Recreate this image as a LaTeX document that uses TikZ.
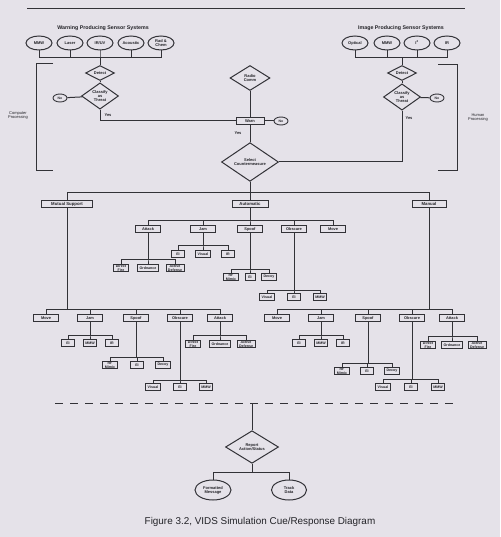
\documentclass[tikz,border=0pt]{standalone}
\usepackage{fontspec}
\setmainfont{Liberation Sans}
\usetikzlibrary{shapes.geometric}
\definecolor{bg}{RGB}{229,226,233}
\definecolor{lc}{RGB}{50,50,55}
\definecolor{tc}{RGB}{35,35,40}
\newcommand\fsz[1]{\fontsize{#1}{#1}\selectfont}
\newcommand\mybranch[3]{\draw[ln] (#1) -- (#1 |- 0,#2) -| (#3);}
\begin{document}
\begin{tikzpicture}[x=1pt,y=-1pt,
  ln/.style={draw=lc, line width=1pt},
  sens/.style={ellipse, draw=lc, line width=1pt, fill=bg, minimum width=26pt, minimum height=14pt, inner sep=0pt, font=\fsz{4}\bfseries, align=center, text=tc},
  sml/.style={ellipse, draw=lc, line width=0.9pt, fill=bg, minimum width=14pt, minimum height=8pt, inner sep=0pt, font=\fsz{3.4}\bfseries, text=tc},
  dia/.style={diamond, draw=lc, line width=1pt, fill=bg, inner sep=0pt, font=\fsz{4}\bfseries, align=center, text=tc},
  bx/.style={rectangle, draw=lc, line width=1pt, fill=bg, inner xsep=2pt, inner ysep=0.8pt, minimum height=6.5pt, font=\fsz{3.9}\bfseries, align=center, text=tc},
  lone/.style={bx, minimum height=7pt, font=\fsz{4.3}\bfseries},
  ltwo/.style={bx, minimum width=25pt},
  lthr/.style={bx, minimum width=13pt, font=\fsz{3.6}\bfseries},
  lab/.style={font=\fsz{4}\bfseries, text=tc, inner sep=0pt},
  side/.style={font=\fsz{4}, text=tc, align=center, inner sep=0pt},
  ttl/.style={font=\fsz{5.3}\bfseries, text=tc, inner sep=0pt}]
\useasboundingbox (0,0) rectangle (500,537);
\fill[bg] (0,0) rectangle (500,537);

% top rule
\coordinate (r1) at (27,9); \coordinate (r2) at (465,9);
\draw[ln] (r1) -- (r2);

% titles
\node[ttl] (wt) at (103,28) {Warning Producing Sensor Systems};
\node[ttl] (it) at (401,28) {Image Producing Sensor Systems};

% left sensors
\node[sens] (s1) at (39,43) {MMW};
\node[sens] (s2) at (70,43) {Laser};
\node[sens] (s3) at (100,43) {IR/UV};
\node[sens] (s4) at (131,43) {Acoustic};
\node[sens] (s5) at (161,43) {Rad \&\\Chem};
\node[dia, minimum width=29pt, minimum height=15pt] (detL) at (100,73) {Detect};
\node[dia, minimum width=37pt, minimum height=25pt] (clsL) at (100,96) {Classify\\as\\Threat};
\node[sml] (noL) at (60,98) {No};
\foreach \s in {s1,s2,s3,s4,s5} {\mybranch{\s}{58}{detL}}
\draw[ln] (detL) -- (clsL);
\draw[ln] (clsL) -- (noL);

% right sensors
\node[sens] (t1) at (355,43) {Optical};
\node[sens] (t2) at (387,43) {MMW};
\node[sens] (t3) at (417,43) {I\textsuperscript{2}};
\node[sens] (t4) at (447,43) {IR};
\node[dia, minimum width=29pt, minimum height=15pt] (detR) at (402,73) {Detect};
\node[dia, minimum width=37pt, minimum height=25pt] (clsR) at (402,97) {Classify\\as\\Threat};
\node[sml] (noR) at (437,98) {No};
\foreach \s in {t1,t2,t3,t4} {\mybranch{\s}{58}{detR}}
\draw[ln] (detR) -- (clsR);
\draw[ln] (clsR) -- (noR);

% center
\node[dia, minimum width=40pt, minimum height=25pt] (radio) at (250,78) {Radio\\Comm};
\node[bx, minimum width=28pt, minimum height=7pt, font=\fsz{4}\bfseries] (warn) at (250,121) {Warn};
\node[sml] (noC) at (281,121) {No};
\node[dia, minimum width=57pt, minimum height=35pt] (sel) at (250,162) {Select\\Countermeasure};
\draw[ln] (radio) -- (warn);
\draw[ln] (warn) -- (noC);
\draw[ln] (warn) -- (sel);
\draw[ln] (clsL) |- (warn);
\draw[ln] (clsR) |- (sel);
\node[lab] (yL) at (108,115) {Yes};
\node[lab] (yC) at (238,133) {Yes};
\node[lab] (yR) at (409,118) {Yes};

% brackets
\coordinate (b1) at (53,64); \coordinate (b2) at (36,64); \coordinate (b3) at (36,171); \coordinate (b4) at (53,171);
\draw[ln] (b1) -- (b2) -- (b3) -- (b4);
\coordinate (c1) at (438,65); \coordinate (c2) at (457,65); \coordinate (c3) at (457,171); \coordinate (c4) at (438,171);
\draw[ln] (c1) -- (c2) -- (c3) -- (c4);
\node[side] (cp) at (18,116) {Computer\\Processing};
\node[side] (hp) at (478,118) {Human\\Processing};

% level 1
\node[lone, minimum width=51pt] (mutual) at (67,204) {Mutual Support};
\node[lone, minimum width=36pt] (auto) at (250,204) {Automatic};
\node[lone, minimum width=34pt] (manual) at (429,204) {Manual};
\mybranch{sel}{193}{mutual}
\mybranch{sel}{193}{manual}
\draw[ln] (sel) -- (auto);

% automatic
\node[ltwo] (aatt) at (148,229) {Attack};
\node[ltwo] (ajam) at (203,229) {Jam};
\node[ltwo] (aspf) at (250,229) {Spoof};
\node[ltwo] (aobs) at (294,229) {Obscure};
\node[ltwo] (amov) at (333,229) {Move};
\foreach \c in {aatt,ajam,aspf,aobs,amov} {\mybranch{auto}{220}{\c}}

\node[lthr] (adf) at (121,268) {Direct\\Fire};
\node[lthr] (aord) at (148,268) {Ordnance};
\node[lthr] (aad) at (175,268) {Active\\Defense};
\foreach \c in {adf,aord,aad} {\mybranch{aatt}{259}{\c}}

\node[lthr] (aj1) at (178,254) {EI};
\node[lthr] (aj2) at (203,254) {Visual};
\node[lthr] (aj3) at (228,254) {IR};
\foreach \c in {aj1,aj2,aj3} {\mybranch{ajam}{245}{\c}}

\node[lthr] (as1) at (231,277) {RF\\Mimic};
\node[lthr, minimum width=10pt] (as2) at (250,277) {EI};
\node[lthr] (as3) at (269,277) {Decoy};
\foreach \c in {as1,as2,as3} {\mybranch{aspf}{269}{\c}}

\node[lthr] (ao1) at (267,297) {Visual};
\node[lthr] (ao2) at (294,297) {EI};
\node[lthr] (ao3) at (320,297) {MMW};
\foreach \c in {ao1,ao2,ao3} {\mybranch{aobs}{290}{\c}}

% mutual support
\node[ltwo] (mmov) at (46,318) {Move};
\node[ltwo] (mjam) at (90,318) {Jam};
\node[ltwo] (mspf) at (136,318) {Spoof};
\node[ltwo] (mobs) at (180,318) {Obscure};
\node[ltwo] (matt) at (220,318) {Attack};
\foreach \c in {mmov,mjam,mspf,mobs,matt} {\mybranch{mutual}{309}{\c}}

\node[lthr] (mj1) at (68,343) {EI};
\node[lthr] (mj2) at (90,343) {MMW};
\node[lthr] (mj3) at (112,343) {IR};
\foreach \c in {mj1,mj2,mj3} {\mybranch{mjam}{335}{\c}}

\node[lthr] (ms1) at (110,365) {RF\\Mimic};
\node[lthr] (ms2) at (137,365) {EI};
\node[lthr] (ms3) at (163,365) {Decoy};
\foreach \c in {ms1,ms2,ms3} {\mybranch{mspf}{357}{\c}}

\node[lthr] (mo1) at (153,387) {Visual};
\node[lthr] (mo2) at (180,387) {EI};
\node[lthr] (mo3) at (206,387) {MMW};
\foreach \c in {mo1,mo2,mo3} {\mybranch{mobs}{380}{\c}}

\node[lthr] (ma1) at (193,344) {Direct\\Fire};
\node[lthr] (ma2) at (220,344) {Ordnance};
\node[lthr] (ma3) at (246,344) {Active\\Defense};
\foreach \c in {ma1,ma2,ma3} {\mybranch{matt}{335}{\c}}

% manual
\node[ltwo] (nmov) at (277,318) {Move};
\node[ltwo] (njam) at (321,318) {Jam};
\node[ltwo] (nspf) at (368,318) {Spoof};
\node[ltwo] (nobs) at (412,318) {Obscure};
\node[ltwo] (natt) at (452,318) {Attack};
\foreach \c in {nmov,njam,nspf,nobs,natt} {\mybranch{manual}{309}{\c}}

\node[lthr] (nj1) at (299,343) {EI};
\node[lthr] (nj2) at (321,343) {MMW};
\node[lthr] (nj3) at (343,343) {IR};
\foreach \c in {nj1,nj2,nj3} {\mybranch{njam}{335}{\c}}

\node[lthr] (ns1) at (342,371) {RF\\Mimic};
\node[lthr] (ns2) at (367,371) {EI};
\node[lthr] (ns3) at (392,371) {Decoy};
\foreach \c in {ns1,ns2,ns3} {\mybranch{nspf}{363}{\c}}

\node[lthr] (no1) at (383,387) {Visual};
\node[lthr] (no2) at (411,387) {EI};
\node[lthr] (no3) at (438,387) {MMW};
\foreach \c in {no1,no2,no3} {\mybranch{nobs}{379}{\c}}

\node[lthr] (na1) at (428,345) {Direct\\Fire};
\node[lthr] (na2) at (452,345) {Ordnance};
\node[lthr] (na3) at (477,345) {Active\\Defense};
\foreach \c in {na1,na2,na3} {\mybranch{natt}{336}{\c}}

% dashed separator
\coordinate (d1) at (55,403); \coordinate (d2) at (458,403);
\draw[ln, dash pattern=on 8pt off 7pt] (d1) -- (d2);

% report
\coordinate (rp) at (252,403);
\node[dia, minimum width=53pt, minimum height=30pt] (rep) at (252,447) {Report\\Action/Status};
\draw[ln] (rp) -- (rep);
\node[ellipse, draw=lc, line width=1pt, fill=bg, minimum width=36pt, minimum height=20pt, inner sep=0pt, font=\fsz{4}\bfseries, align=center, text=tc] (fm) at (213,490) {Formatted\\Message};
\node[ellipse, draw=lc, line width=1pt, fill=bg, minimum width=35pt, minimum height=20pt, inner sep=0pt, font=\fsz{4}\bfseries, align=center, text=tc] (td) at (289,490) {Track\\Data};
\mybranch{rep}{472}{fm}
\mybranch{rep}{472}{td}

% caption
\node[font=\fsz{9.9}, text=tc, inner sep=0pt] (cap) at (260,522) {Figure 3.2, VIDS Simulation Cue/Response Diagram};
\end{tikzpicture}
\end{document}
